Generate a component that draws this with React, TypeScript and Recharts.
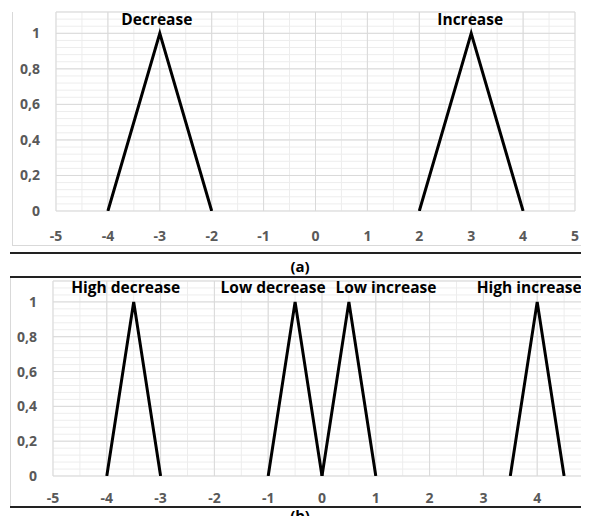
import React from 'react';
import { LineChart, Line, XAxis, YAxis, CartesianGrid, ReferenceDot } from 'recharts';

// x ticks, y ticks, minor grid steps
const xTicks = [-5, -4, -3, -2, -1, 0, 1, 2, 3, 4, 5];
const yTicks = [0, 0.2, 0.4, 0.6, 0.8, 1];
const xMinorTicks = xTicks.flatMap(t => (t < 5 ? [t, t + 0.5] : [t]));
const yMinorTicks = Array.from({ length: 29 }, (_, i) => Math.round(i * 4) / 100);

// membership values for every triangle: foot, peak, foot
const triangleY = [0, 1, 0];

// (a) two sets
const setsA = ['Decrease', 'Increase'];
const pointsA = [
    [-4, -3, -2],
    [2, 3, 4],
];

// (b) four sets
const setsB = ['High decrease', 'Low decrease', 'Low increase', 'High increase'];
const pointsB = [
    [-4, -3.5, -3],
    [-1, -0.5, 0],
    [0, 0.5, 1],
    [3.5, 4, 4.5],
];

const toSeries = (xs: number[]) => xs.map((x, i) => ({ x, y: triangleY[i] }));

const FONT = '"Open Sans", sans-serif';
const tickStyle = { fill: '#595959', fontSize: 14, fontWeight: 700, fontFamily: FONT };
const fmtY = (v: number) => String(v).replace('.', ',');

const peakLabel = (text: string, dx: number, lift: number) => (props: any) => {
    const vb = props.viewBox || {};
    return (
        <text
            x={(vb.x ?? 0) + (vb.width ?? 0) / 2 + dx}
            y={(vb.y ?? 0) - lift}
            textAnchor="middle"
            fill="#000"
            fontSize={15.5}
            fontWeight={700}
            fontFamily={FONT}
        >
            {text}
        </text>
    );
};

// minor grid positions through the axis scale
const minorX = ({ xAxis, offset }: any) =>
    xMinorTicks.map(t =>
        xAxis && typeof xAxis.scale === 'function' ? xAxis.scale(t) : offset.left + ((t + 5) / 10) * offset.width
    );
const minorY = ({ yAxis, offset }: any) =>
    yMinorTicks.map(t =>
        yAxis && typeof yAxis.scale === 'function' ? yAxis.scale(t) : offset.top + offset.height - (t / 1.12) * offset.height
    );

interface FuzzyChartProps {
    names: string[];
    points: number[][];
    width: number;
    height: number;
    margin: { top: number; right: number; left: number; bottom: number };
    tickMargin: number;
    labelShift: number[];
    labelLift: number;
}

function FuzzyChart({ names, points, width, height, margin, tickMargin, labelShift, labelLift }: FuzzyChartProps) {
    return (
        <LineChart width={width} height={height} margin={margin}>
            <CartesianGrid
                stroke="#ededed"
                verticalCoordinatesGenerator={minorX}
                horizontalCoordinatesGenerator={minorY}
            />
            <CartesianGrid stroke="#d9d9d9" />
            <XAxis
                type="number"
                dataKey="x"
                domain={[-5, 5]}
                ticks={xTicks}
                allowDataOverflow
                axisLine={false}
                tickLine={false}
                tickSize={0}
                tickMargin={tickMargin}
                height={30}
                tick={tickStyle}
                interval={0}
            />
            <YAxis
                type="number"
                domain={[0, 1.12]}
                ticks={yTicks}
                allowDataOverflow
                axisLine={false}
                tickLine={false}
                tickSize={0}
                tickMargin={16}
                width={44}
                tick={tickStyle}
                tickFormatter={fmtY}
                interval={0}
            />
            {points.map((xs, i) => (
                <Line
                    key={names[i]}
                    data={toSeries(xs)}
                    dataKey="y"
                    type="linear"
                    stroke="#000"
                    strokeWidth={3}
                    strokeLinejoin="miter"
                    dot={false}
                    isAnimationActive={false}
                />
            ))}
            {points.map((xs, i) => (
                <ReferenceDot
                    key={'lbl' + names[i]}
                    x={xs[1]}
                    y={1}
                    r={0}
                    fill="none"
                    stroke="none"
                    label={peakLabel(names[i], labelShift[i], labelLift)}
                />
            ))}
        </LineChart>
    );
}

export default function App() {
    return (
        <div style={{ position: 'relative', width: 589, height: 524, margin: -8, overflow: 'hidden', background: '#fff' }}>
            {/* frame of (a) */}
            <div style={{ position: 'absolute', left: 12, top: 12, width: 570, height: 233, borderLeft: '1px solid #d9d9d9', borderRight: '1px solid #d9d9d9', borderBottom: '1px solid #d9d9d9' }} />
            <div style={{ position: 'absolute', left: 0, top: 0 }}>
                <FuzzyChart
                    names={setsA}
                    points={pointsA}
                    width={589}
                    height={250}
                    margin={{ top: 12, right: 14, left: 12, bottom: 9 }}
                    tickMargin={20}
                    labelShift={[-3, -1]}
                    labelLift={8}
                />
            </div>
            <div style={{ position: 'absolute', left: 10, top: 252, width: 579, height: 2, background: '#222' }} />
            <div style={{ position: 'absolute', left: 0, top: 256, width: 600, textAlign: 'center', font: `700 15px ${FONT}`, color: '#000' }}>(a)</div>
            <div style={{ position: 'absolute', left: 10, top: 276, width: 579, height: 2, background: '#222' }} />
            {/* frame of (b) */}
            <div style={{ position: 'absolute', left: 10, top: 278, width: 1, height: 229, background: '#d9d9d9' }} />
            <div style={{ position: 'absolute', left: 0, top: 260 }}>
                <FuzzyChart
                    names={setsB}
                    points={pointsB}
                    width={600}
                    height={260}
                    margin={{ top: 21, right: 9, left: 9, bottom: 14 }}
                    tickMargin={17}
                    labelShift={[-8, -22, 37, -8]}
                    labelLift={9}
                />
            </div>
            <div style={{ position: 'absolute', left: 10, top: 506, width: 579, height: 2, background: '#222' }} />
            <div style={{ position: 'absolute', left: 0, top: 505, width: 600, textAlign: 'center', font: `700 15px ${FONT}`, color: '#000' }}>(b)</div>
        </div>
    );
}
